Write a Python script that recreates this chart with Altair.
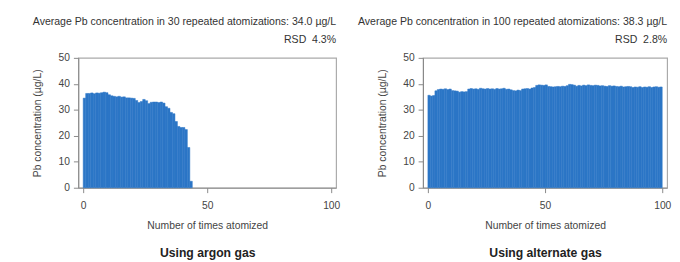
import altair as alt
import pandas as pd

# ---- data ----
argon_values = [34.5, 36.3, 36.3, 36.5, 36.2, 36.5, 36.4, 36.6, 36.8, 36.6,
                35.8, 35.4, 35.2, 35.0, 35.2, 34.9, 35.0, 34.6, 34.6, 34.5,
                34.4, 33.6, 32.8, 33.2, 34.0, 33.5, 32.4, 32.9, 33.0, 33.0,
                32.8, 33.0, 32.6, 31.2, 30.6, 29.0, 28.5, 25.5, 23.6, 23.2,
                23.2, 22.4, 15.5, 2.5]
alternate_values = [35.6, 35.3, 35.5, 37.3, 37.8, 38.0, 37.9, 38.1, 37.8, 38.0,
                    37.4, 37.3, 37.2, 36.8, 37.0, 36.9, 37.0, 38.0, 38.2, 38.0,
                    38.1, 37.9, 38.3, 38.1, 38.0, 38.2, 38.0, 38.1, 37.9, 38.2,
                    38.0, 38.1, 38.3, 37.9, 38.0, 37.7, 37.4, 37.3, 37.6, 37.4,
                    38.0, 38.1, 38.2, 38.0, 38.4, 38.6, 39.4, 39.6, 39.5, 39.4,
                    39.6, 39.0, 38.9, 38.8, 38.9, 39.0, 38.9, 39.1, 39.0, 39.3,
                    39.8, 39.7, 39.5, 39.1, 39.4, 39.2, 39.5, 39.3, 39.6, 39.4,
                    39.3, 39.5, 39.4, 39.2, 39.3, 39.1, 39.0, 39.3, 39.1, 39.2,
                    39.0, 38.9, 39.1, 38.8, 38.9, 39.0, 38.9, 38.6, 38.8, 38.7,
                    38.9, 38.6, 38.8, 38.7, 38.9, 38.6, 38.8, 38.9, 38.7, 38.8]

titles = ["Average Pb concentration in 30 repeated atomizations: 34.0 \u00b5g/L",
          "Average Pb concentration in 100 repeated atomizations: 38.3 \u00b5g/L"]
rsd_labels = ["RSD\u00a0\u00a04.3%", "RSD\u00a0\u00a02.8%"]
captions = ["Using argon gas", "Using alternate gas"]
x_ticks = [0, 50, 100]
y_ticks = [0, 10, 20, 30, 40, 50]
x_title = "Number of times atomized"
y_title = "Pb concentration (\u00b5g/L)"

FONT = "Liberation Sans"
BLUE = "#2c76c6"


def panel(values, title, rsd, caption, width):
    df = pd.DataFrame({
        "start": list(range(len(values))),
        "end": [i + 1 for i in range(len(values))],
        "value": values,
        "base": [0] * len(values),
    })
    xscale = alt.Scale(domain=[0, 100], nice=False, zero=True)
    yenc = alt.Y("value:Q", scale=alt.Scale(domain=[0, 50], nice=False),
                 axis=alt.Axis(values=y_ticks, title=y_title, titlePadding=16,
                               labelPadding=4, tickSize=5, ticks=True,
                               domain=True))
    bars = alt.Chart(df).mark_bar(color=BLUE, orient="vertical",
                                  stroke=BLUE, strokeWidth=0.5).encode(
        x=alt.X("start:Q", scale=xscale,
                axis=alt.Axis(values=x_ticks, title=x_title, titlePadding=10,
                              labelPadding=8, tickSize=5, ticks=True,
                              domain=True, orient="bottom")),
        x2="end:Q",
        y=yenc,
        y2="base:Q",
    )
    cap = alt.Chart(df).mark_bar(opacity=0, orient="vertical").encode(
        x=alt.X("start:Q", scale=xscale,
                axis=alt.Axis(orient="bottom", labels=False, ticks=False,
                              domain=False, title=caption, titlePadding=60,
                              titleFontSize=12.5, titleFontWeight="bold",
                              titleColor="#222")),
        x2="end:Q",
        y=yenc,
        y2="base:Q",
    )
    return alt.layer(bars, cap).resolve_axis(x="independent").properties(
        width=width, height=133,
        title=alt.TitleParams(text=title, subtitle=rsd, anchor="end",
                              frame="group", fontSize=10.8, fontWeight="normal",
                              color="#333", subtitleFontSize=10.8,
                              subtitleColor="#333", subtitlePadding=8,
                              offset=8, font=FONT, subtitleFont=FONT),
    )


left = panel(argon_values, titles[0], rsd_labels[0], captions[0], 264)
right = panel(alternate_values, titles[1], rsd_labels[1], captions[1], 250)

chart = alt.hconcat(left, right, spacing=16).properties(
    padding={"left": 24, "top": 4, "right": 0, "bottom": 0},
    background="white",
).configure_view(stroke="#aaaaaa", strokeWidth=1.2).configure_axis(
    grid=False, domainColor="#888888", tickColor="#888888",
    labelColor="#444444", titleColor="#444444", labelFont=FONT,
    titleFont=FONT, labelFontSize=10.5, titleFontSize=10.6,
    titleFontWeight="normal",
)

chart.save("out.html", embed_options={"renderer": "svg", "actions": False})
